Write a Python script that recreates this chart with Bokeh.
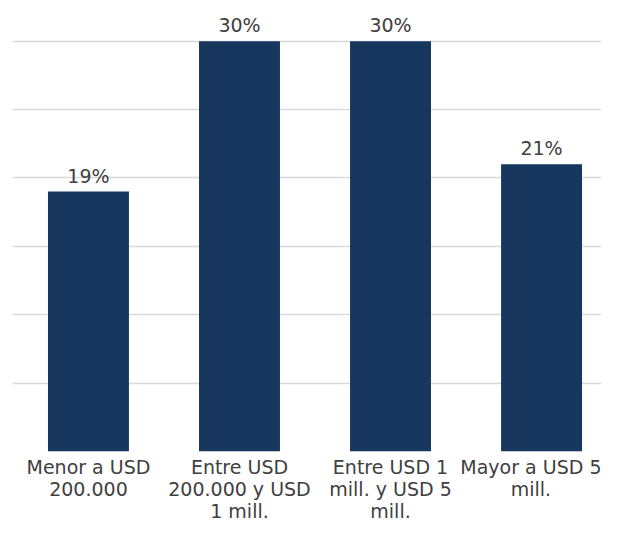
from bokeh.plotting import figure
from bokeh.models import ColumnDataSource, FixedTicker, Range1d
from bokeh.core.properties import value
from bokeh.embed import file_html
from bokeh.resources import INLINE

categories = [
    "Menor a USD\n200.000",
    "Entre USD\n200.000 y USD\n1 mill.",
    "Entre USD 1\nmill. y USD 5\nmill.",
    "Mayor a USD 5\nmill.",
]
values = [19, 30, 30, 21]
value_labels = ["19%", "30%", "30%", "21%"]
grid_ticks = [0, 5, 10, 15, 20, 25, 30]

xs = list(range(len(categories)))
source = ColumnDataSource(dict(x=xs, top=values, label=value_labels))

FONT = "DejaVu Sans"
TEXT_COLOR = "#404040"

p = figure(
    width=601, height=524,
    output_backend="svg", toolbar_location=None,
    x_range=Range1d(-0.503, 3.397), y_range=Range1d(0, 32.97),
    min_border_left=12, min_border_right=0, min_border_top=0, min_border_bottom=70,
)

p.vbar(x="x", top="top", bottom=0, width=0.536, source=source,
       fill_color="#17375e", line_color=None)

p.text(x="x", y="top", text="label", source=source,
       text_align="center", text_baseline="middle", y_offset=-16,
       text_font=value(FONT), text_font_size="19px", text_color=TEXT_COLOR)

p.xgrid.visible = False
p.ygrid.ticker = FixedTicker(ticks=grid_ticks)
p.ygrid.grid_line_color = "#d9d9d9"
p.ygrid.grid_line_width = 1.5

p.yaxis.visible = False

p.xaxis.ticker = FixedTicker(ticks=xs)
p.xaxis.major_label_overrides = {i: c for i, c in zip(xs, categories)}
p.xaxis.axis_line_color = None
p.xaxis.major_tick_line_color = None
p.xaxis.minor_tick_line_color = None
p.xaxis.major_tick_out = 0
p.xaxis.major_tick_in = 0
p.xaxis.minor_tick_out = 0
p.xaxis.minor_tick_in = 0
p.xaxis.major_label_standoff = 4
p.xaxis.major_label_text_font = FONT
p.xaxis.major_label_text_font_size = "19px"
p.xaxis.major_label_text_color = TEXT_COLOR
p.xaxis.major_label_text_line_height = 1.0

p.outline_line_color = None
p.background_fill_color = "white"
p.border_fill_color = "white"

open("out.html", "w").write(file_html(p, INLINE))
